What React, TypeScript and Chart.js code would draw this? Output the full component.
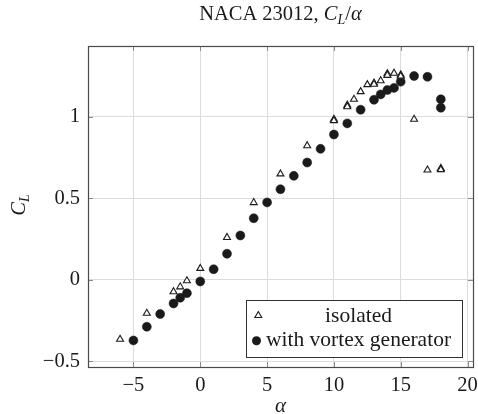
import React, { useEffect, useRef } from 'react';
import { Chart, registerables } from 'chart.js';

Chart.register(...registerables);

// Lift coefficient vs. angle of attack, NACA 23012
const isolatedAlpha = [-6, -4, -2, -1.5, -1, 0, 2, 4, 6, 8, 10, 10, 11, 11, 11.5, 12, 12.5, 13, 13, 13.5, 14, 14, 14.5, 15, 15, 16, 17, 18, 18];
const isolatedCL = [-0.365, -0.205, -0.073, -0.043, -0.006, 0.07, 0.26, 0.474, 0.65, 0.823, 0.985, 0.977, 1.072, 1.062, 1.108, 1.155, 1.198, 1.208, 1.2, 1.222, 1.265, 1.255, 1.268, 1.258, 1.25, 0.985, 0.674, 0.684, 0.676];

const vortexAlpha = [-5, -4, -3, -2, -1.5, -1, 0, 1, 2, 3, 4, 5, 6, 7, 8, 9, 10, 11, 12, 13, 13.5, 14, 14.5, 15, 16, 17, 18, 18];
const vortexCL = [-0.372, -0.288, -0.21, -0.145, -0.11, -0.082, -0.01, 0.065, 0.16, 0.272, 0.378, 0.475, 0.556, 0.638, 0.72, 0.804, 0.892, 0.96, 1.044, 1.105, 1.138, 1.165, 1.178, 1.216, 1.251, 1.246, 1.108, 1.056];

const alphaTicks = [-5, 0, 5, 10, 15, 20];
const clTicks = [-0.5, 0, 0.5, 1];
const alphaRange = [-8.4, 20.4];
const clRange = [-0.535, 1.435];
const seriesLabels = ['isolated', 'with vortex generator'];

const SERIF = '"Liberation Serif", "Times New Roman", serif';
const INK = '#1a1a1a';
const fmt = (v: number) => (v < 0 ? '\u2212' + String(Math.abs(v)) : String(v));

type Run = { text: string; italic?: boolean; size?: number; dy?: number };

function drawRuns(ctx: CanvasRenderingContext2D, runs: Run[], x: number, y: number, base: number) {
  const font = (r: Run) => `${r.italic ? 'italic ' : ''}${r.size ?? base}px ${SERIF}`;
  const widths = runs.map((r) => {
    ctx.font = font(r);
    return ctx.measureText(r.text).width;
  });
  const total = widths.reduce((a, b) => a + b, 0);
  let cx = x - total / 2;
  ctx.textAlign = 'left';
  ctx.textBaseline = 'alphabetic';
  runs.forEach((r, i) => {
    ctx.font = font(r);
    ctx.fillText(r.text, cx, y + (r.dy ?? 0));
    cx += widths[i];
  });
}

function triangle(ctx: CanvasRenderingContext2D, x: number, y: number, r: number) {
  ctx.beginPath();
  for (let k = 0; k < 3; k++) {
    const a = (k * 2 * Math.PI) / 3;
    const px = x + Math.sin(a) * r;
    const py = y - Math.cos(a) * r;
    if (k === 0) ctx.moveTo(px, py);
    else ctx.lineTo(px, py);
  }
  ctx.closePath();
}

const decorations = {
  id: 'decorations',
  afterDraw(chart: Chart) {
    const ctx = chart.ctx;
    const { left, right, top, bottom } = chart.chartArea;
    const xs = chart.scales.x;
    const ys = chart.scales.y;
    ctx.save();

    // inward tick marks on all four sides
    ctx.strokeStyle = '#8a8a8a';
    ctx.lineWidth = 1;
    ctx.beginPath();
    for (const v of alphaTicks) {
      const px = Math.round(xs.getPixelForValue(v)) + 0.5;
      ctx.moveTo(px, bottom);
      ctx.lineTo(px, bottom - 5);
      ctx.moveTo(px, top);
      ctx.lineTo(px, top + 5);
    }
    for (const v of clTicks) {
      const py = Math.round(ys.getPixelForValue(v)) + 0.5;
      ctx.moveTo(left, py);
      ctx.lineTo(left + 5, py);
      ctx.moveTo(right, py);
      ctx.lineTo(right - 5, py);
    }
    ctx.stroke();

    // axis frame
    ctx.strokeStyle = '#4a4a4a';
    ctx.lineWidth = 1.2;
    ctx.strokeRect(Math.round(left) + 0.5, Math.round(top) + 0.5, Math.round(right - left), Math.round(bottom - top));

    ctx.fillStyle = INK;
    // title
    drawRuns(
      ctx,
      [
        { text: 'NACA 23012, ' },
        { text: 'C', italic: true },
        { text: 'L', italic: true, size: 14, dy: 4 },
        { text: '/' },
        { text: '\u03b1', italic: true },
      ],
      (left + right) / 2,
      19.5,
      20.5
    );
    // x-axis label
    drawRuns(ctx, [{ text: '\u03b1', italic: true }], (left + right) / 2, 412, 21);
    // y-axis label
    ctx.save();
    ctx.translate(24.5, 205);
    ctx.rotate(-Math.PI / 2);
    drawRuns(
      ctx,
      [
        { text: 'C', italic: true },
        { text: 'L', italic: true, size: 14, dy: 4 },
      ],
      0,
      0,
      20.5
    );
    ctx.restore();

    // legend
    const bx = 246.5, by = 300.5, bw = 216, bh = 57;
    ctx.fillStyle = '#ffffff';
    ctx.fillRect(bx, by, bw, bh);
    ctx.strokeStyle = '#333333';
    ctx.lineWidth = 1;
    ctx.strokeRect(bx, by, bw, bh);

    triangle(ctx, 258.3, 315.5, 4);
    ctx.fillStyle = '#ffffff';
    ctx.fill();
    ctx.strokeStyle = INK;
    ctx.lineWidth = 1.1;
    ctx.stroke();

    ctx.beginPath();
    ctx.arc(256.5, 340.7, 4.5, 0, Math.PI * 2);
    ctx.fillStyle = INK;
    ctx.fill();

    drawRuns(ctx, [{ text: seriesLabels[0] }], 358.5, 322, 21.5);
    drawRuns(ctx, [{ text: seriesLabels[1] }], 358.5, 346, 21.5);

    ctx.restore();
  },
};

export default function App() {
  const canvasRef = useRef<HTMLCanvasElement | null>(null);

  useEffect(() => {
    const canvas = canvasRef.current;
    if (!canvas) return;
    const chart = new Chart(canvas, {
      type: 'scatter',
      data: {
        datasets: [
          {
            label: seriesLabels[0],
            data: isolatedAlpha.map((a, i) => ({ x: a, y: isolatedCL[i] })),
            pointStyle: 'triangle',
            pointRadius: 4,
            borderWidth: 1.1,
            borderColor: INK,
            backgroundColor: '#ffffff',
          },
          {
            label: seriesLabels[1],
            data: vortexAlpha.map((a, i) => ({ x: a, y: vortexCL[i] })),
            pointStyle: 'circle',
            pointRadius: 4.5,
            borderWidth: 0.5,
            borderColor: INK,
            backgroundColor: INK,
          },
        ],
      },
      options: {
        animation: false,
        responsive: false,
        events: [],
        layout: { padding: { top: 46, right: 5, left: 0, bottom: 0 } },
        plugins: {
          legend: { display: false },
          tooltip: { enabled: false },
          title: { display: false },
        },
        scales: {
          x: {
            type: 'linear',
            min: alphaRange[0],
            max: alphaRange[1],
            afterBuildTicks: (scale: any) => {
              scale.ticks = alphaTicks.map((v) => ({ value: v }));
            },
            afterFit: (scale: any) => {
              scale.height = 47;
              scale.paddingLeft = 0;
              scale.paddingRight = 0;
            },
            grid: { color: '#dcdcdc', lineWidth: 1, drawTicks: false },
            border: { display: false },
            ticks: {
              padding: 6,
              maxRotation: 0,
              autoSkip: false,
              color: INK,
              font: { family: SERIF, size: 20.5 },
              callback: (v: any) => fmt(Number(v)),
            },
          },
          y: {
            type: 'linear',
            min: clRange[0],
            max: clRange[1],
            afterBuildTicks: (scale: any) => {
              scale.ticks = clTicks.map((v) => ({ value: v }));
            },
            afterFit: (scale: any) => {
              scale.width = 88;
              scale.paddingTop = 0;
              scale.paddingBottom = 0;
            },
            grid: { color: '#dcdcdc', lineWidth: 1, drawTicks: false },
            border: { display: false },
            ticks: {
              padding: 8,
              autoSkip: false,
              color: INK,
              font: { family: SERIF, size: 20.5 },
              callback: (v: any) => fmt(Number(v)),
            },
          },
        },
      },
      plugins: [decorations],
    });
    return () => chart.destroy();
  }, []);

  return (
    <div style={{ position: 'absolute', left: 0, top: 0, width: 478, height: 414, background: '#ffffff' }}>
      <canvas ref={canvasRef} width={478} height={414} />
    </div>
  );
}
